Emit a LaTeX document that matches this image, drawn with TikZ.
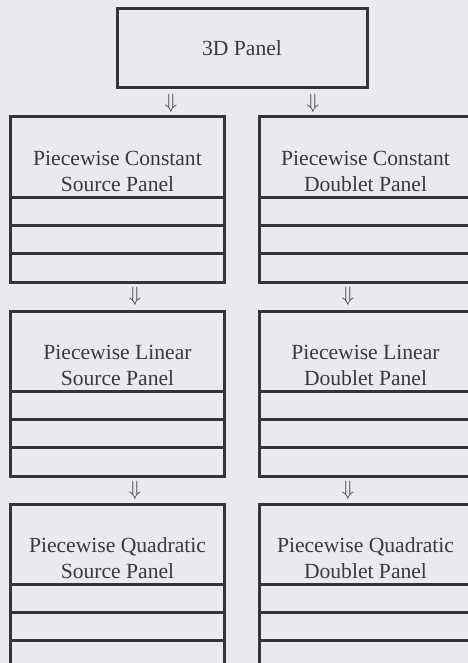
\documentclass[tikz,border=0pt]{standalone}
\usepackage{fontspec}
\setmainfont{Liberation Serif}
\definecolor{bgc}{RGB}{233,234,240}
\definecolor{linec}{RGB}{52,52,58}
\definecolor{txtc}{RGB}{58,58,62}

\begin{document}
\begin{tikzpicture}[
  x=1bp, y=-1bp,
  box/.style={draw=linec, line width=3bp, inner sep=0pt, outer sep=0pt, text=txtc,
              font=\fontsize{21.6bp}{26bp}\selectfont, align=center},
  panel/.style={box, minimum width=213bp, minimum height=165bp},
  lbl/.style={inner sep=0pt, text=txtc, align=center,
              font=\fontsize{21.6bp}{26bp}\selectfont},
  rule/.style={draw=linec, line width=3bp},
  dn/.style={inner sep=0pt, text=txtc, font=\fontsize{21bp}{21bp}\selectfont},
]
\path[use as bounding box, fill=bgc] (0,0) rectangle (468,663);
\clip (0,0) rectangle (468,663);

\node[box, minimum width=250bp, minimum height=79bp] (td) at (242,48.5) {3D Panel};

\node[panel, label={[lbl, yshift=28bp]center:Piecewise Constant\\Source Panel}] (pcs) at (117.5,199.5) {};
\node[panel, label={[lbl, yshift=28bp]center:Piecewise Constant\\Doublet Panel}] (pcd) at (365.5,199.5) {};
\node[panel, label={[lbl, yshift=28bp]center:Piecewise Linear\\Source Panel}] (pls) at (117.5,393.5) {};
\node[panel, label={[lbl, yshift=28bp]center:Piecewise Linear\\Doublet Panel}] (pld) at (365.5,393.5) {};
\node[panel, label={[lbl, yshift=28bp]center:Piecewise Quadratic\\Source Panel}] (pqs) at (117.5,586.5) {};
\node[panel, label={[lbl, yshift=28bp]center:Piecewise Quadratic\\Doublet Panel}] (pqd) at (365.5,586.5) {};

% strips under each panel title
\foreach \p in {pcs,pcd,pls,pld,pqs,pqd}
  \foreach \k in {1,2,3}
    \draw[rule] ([yshift={\k*28.3bp}]\p.south west) -- ([yshift={\k*28.3bp}]\p.south east);

\node[dn] (d1) at (171,103) {$\Downarrow$};
\node[dn] (d2) at (313,103) {$\Downarrow$};
\node[dn] (d3) at (135,296) {$\Downarrow$};
\node[dn] (d4) at (348,296) {$\Downarrow$};
\node[dn] (d5) at (135,490) {$\Downarrow$};
\node[dn] (d6) at (348,490) {$\Downarrow$};
\end{tikzpicture}
\end{document}
